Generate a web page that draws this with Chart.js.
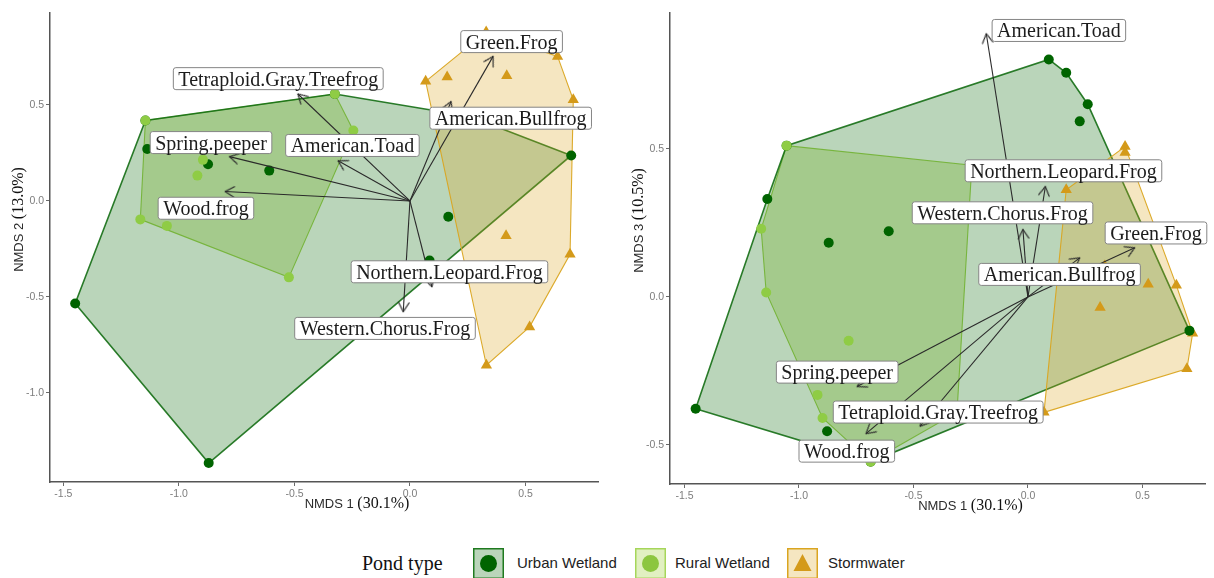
<!DOCTYPE html>
<html>
<head>
<meta charset="utf-8">
<script src="https://cdn.jsdelivr.net/npm/chart.js@4.4.1/dist/chart.umd.min.js"></script>
<style>
  html, body { margin: 0; padding: 0; background: #fff; }
  #wrap { position: relative; width: 1214px; height: 578px; overflow: hidden; }
  #wrap canvas { position: absolute; top: 0; }
  #c12 { left: 0; }
  #c13 { left: 607px; }
  .lg { position: absolute; top: 548px; height: 30px; white-space: nowrap; }
  .lg-title { font: 20px "Liberation Serif", "Times New Roman", serif; line-height: 30px; color: #111; }
  .lg-text { font: 15px "Liberation Sans", Arial, sans-serif; line-height: 30px; color: #222; }
  .lg svg { display: block; }
</style>
</head>
<body>
<div id="wrap">
  <canvas id="c12" width="607" height="520"></canvas>
  <canvas id="c13" width="607" height="520"></canvas>

  <div class="lg lg-title" style="left:362px;">Pond type</div>
  <div class="lg" style="left:473px;">
    <svg width="31" height="31"><rect x="0.75" y="0.75" width="29.5" height="29.5" fill="rgba(0,100,0,0.27)" stroke="#1f7a1f" stroke-width="1.5"/><circle cx="15.5" cy="15.5" r="8.5" fill="#006400"/></svg>
  </div>
  <div class="lg lg-text" style="left:517px;">Urban Wetland</div>
  <div class="lg" style="left:635px;">
    <svg width="31" height="31"><rect x="0.75" y="0.75" width="29.5" height="29.5" fill="rgba(154,205,50,0.30)" stroke="#a6d65a" stroke-width="1.5"/><circle cx="15.5" cy="15.5" r="8.5" fill="#8cc63f"/></svg>
  </div>
  <div class="lg lg-text" style="left:675px;">Rural Wetland</div>
  <div class="lg" style="left:787px;">
    <svg width="31" height="31"><rect x="0.75" y="0.75" width="29.5" height="29.5" fill="rgba(218,165,32,0.28)" stroke="#daa520" stroke-width="1.5"/><polygon points="15.5,6 24.5,23 6.5,23" fill="#d49a1a"/></svg>
  </div>
  <div class="lg lg-text" style="left:828px;">Stormwater</div>
</div>

<script>
// ---- axis ticks ----
const xTicks = [-1.5, -1.0, -0.5, 0.0, 0.5];
const yTicksNMDS2 = [-1.0, -0.5, 0.0, 0.5];
const yTicksNMDS3 = [-0.5, 0.0, 0.5];

// ---- site scores, NMDS 1 vs NMDS 2 ----
const urbanNMDS12 = [[-1.449,-0.534],[-0.871,-1.365],[-1.137,0.271],[-0.874,0.191],[-0.609,0.158],
                     [0.166,-0.082],[0.698,0.237],[0.085,-0.31],[-1.145,0.419],[-0.325,0.557],[0.26,0.44]];
const ruralNMDS12 = [[-1.145,0.419],[-0.325,0.557],[-0.245,0.367],[-0.896,0.214],[-0.920,0.132],
                     [-1.167,-0.096],[-1.052,-0.130],[-0.524,-0.398]];
const stormNMDS12 = [[0.068,0.623],[0.161,0.645],[0.419,0.652],[0.639,0.753],[0.707,0.527],
                     [0.416,-0.181],[0.693,-0.278],[0.518,-0.656],[0.331,-0.856],[0.33,0.88]];

// ---- site scores, NMDS 1 vs NMDS 3 ----
const urbanNMDS13 = [[0.091,0.802],[0.167,0.757],[0.261,0.651],[0.226,0.593],[-1.138,0.331],
                     [-0.608,0.222],[-0.870,0.183],[-1.451,-0.378],[-0.877,-0.454],[0.705,-0.114],
                     [-1.054,0.511],[-0.687,-0.557]];
const ruralNMDS13 = [[-1.054,0.511],[-1.165,0.230],[-1.143,0.015],[-0.783,-0.148],[-0.919,-0.331],
                     [-0.897,-0.409],[-0.687,-0.557],[-0.245,0.445],[-0.31,-0.39]];
const stormNMDS13 = [[0.424,0.508],[0.424,0.488],[0.167,0.362],[0.335,0.104],[0.525,0.043],
                     [0.648,0.039],[0.315,-0.036],[0.719,-0.123],[0.694,-0.243],[0.07,-0.39]];

// ---- species vectors (envfit) ----
const species = ["Green.Frog","Tetraploid.Gray.Treefrog","American.Bullfrog","American.Toad",
                 "Spring.peeper","Wood.frog","Northern.Leopard.Frog","Western.Chorus.Frog"];
const vecNMDS12 = [[0.36,0.753],[-0.485,0.557],[0.178,0.518],[-0.311,0.209],
                   [-0.781,0.231],[-0.80,0.049],[0.095,-0.447],[-0.029,-0.577]];
const labelNMDS12 = [[0.44,0.83],[-0.57,0.637],[0.436,0.431],[-0.249,0.289],
                     [-0.861,0.304],[-0.883,-0.038],[0.171,-0.369],[-0.108,-0.664]];
const vecNMDS13 = [[0.466,0.166],[-0.471,-0.437],[0.226,0.132],[-0.182,0.889],
                   [-0.746,-0.303],[-0.707,-0.462],[0.076,0.373],[-0.022,0.228]];
const labelNMDS13 = [[0.559,0.216],[-0.392,-0.389],[0.138,0.076],[0.135,0.90],
                     [-0.833,-0.254],[-0.791,-0.521],[0.155,0.426],[-0.111,0.284]];

const SERIF = '"Liberation Serif", "Times New Roman", serif';
const SANS = '"Liberation Sans", Arial, sans-serif';

const toXY = arr => arr.map(([x, y]) => ({x, y}));

// convex hull (monotone chain), closed ring
function hull(points) {
  const p = points.slice().sort((a, b) => a[0] - b[0] || a[1] - b[1]);
  const cross = (o, a, b) => (a[0]-o[0])*(b[1]-o[1]) - (a[1]-o[1])*(b[0]-o[0]);
  const lower = [], upper = [];
  for (const q of p) {
    while (lower.length >= 2 && cross(lower[lower.length-2], lower[lower.length-1], q) <= 0) lower.pop();
    lower.push(q);
  }
  for (let i = p.length - 1; i >= 0; i--) {
    const q = p[i];
    while (upper.length >= 2 && cross(upper[upper.length-2], upper[upper.length-1], q) <= 0) upper.pop();
    upper.push(q);
  }
  const ring = lower.slice(0, -1).concat(upper.slice(0, -1));
  ring.push(ring[0]);
  return ring;
}

// open "V" arrow head, apex at the centre, pointing along +x
const arrowHead = (() => {
  const c = document.createElement('canvas');
  c.width = 26; c.height = 26;
  const g = c.getContext('2d');
  const L = 10.5, a = Math.PI / 6;
  g.strokeStyle = '#2a2a2a'; g.lineWidth = 1.2; g.lineCap = 'round'; g.lineJoin = 'round';
  g.beginPath();
  g.moveTo(13 - L * Math.cos(a), 13 - L * Math.sin(a));
  g.lineTo(13, 13);
  g.lineTo(13 - L * Math.cos(a), 13 + L * Math.sin(a));
  g.stroke();
  return c;
})();

// polygon fill beneath each hull outline, using the points the library placed
const hullFill = {
  id: 'hullFill',
  beforeDatasetDraw(chart, args) {
    const ds = chart.data.datasets[args.index];
    if (!ds.hullColor) return;
    const pts = args.meta.data;
    const ctx = chart.ctx;
    ctx.save();
    ctx.beginPath();
    pts.forEach((p, i) => i ? ctx.lineTo(p.x, p.y) : ctx.moveTo(p.x, p.y));
    ctx.closePath();
    ctx.fillStyle = ds.hullColor;
    ctx.fill();
    ctx.restore();
  }
};

function roundRectPath(ctx, x, y, w, h, r) {
  ctx.beginPath();
  ctx.moveTo(x + r, y);
  ctx.lineTo(x + w - r, y); ctx.arcTo(x + w, y, x + w, y + r, r);
  ctx.lineTo(x + w, y + h - r); ctx.arcTo(x + w, y + h, x + w - r, y + h, r);
  ctx.lineTo(x + r, y + h); ctx.arcTo(x, y + h, x, y + h - r, r);
  ctx.lineTo(x, y + r); ctx.arcTo(x, y, x + r, y, r);
  ctx.closePath();
}

function speciesLabelPlugin(names, pos) {
  return {
    id: 'speciesLabels',
    afterDatasetsDraw(chart) {
      const {ctx} = chart;
      const xs = chart.scales.x, ys = chart.scales.y;
      ctx.save();
      ctx.font = `20px ${SERIF}`;
      names.forEach((name, i) => {
        const cx = xs.getPixelForValue(pos[i][0]);
        const cy = ys.getPixelForValue(pos[i][1]);
        const w = ctx.measureText(name).width + 10, h = 22;
        roundRectPath(ctx, cx - w / 2, cy - h / 2, w, h, 2.5);
        ctx.fillStyle = '#ffffff'; ctx.fill();
        ctx.lineWidth = 1; ctx.strokeStyle = '#858585'; ctx.stroke();
        ctx.fillStyle = '#1c1c1c'; ctx.textAlign = 'center'; ctx.textBaseline = 'alphabetic';
        ctx.fillText(name, cx, cy + 7);
      });
      ctx.restore();
    }
  };
}

function axisTitlePlugin(xParts, yParts) {
  const draw = (ctx, parts, cx, cy, rot) => {
    ctx.save();
    ctx.translate(cx, cy); ctx.rotate(rot);
    ctx.font = `13px ${SANS}`;
    const w1 = ctx.measureText(parts[0] + ' ').width;
    ctx.font = `16px ${SERIF}`;
    const w2 = ctx.measureText(parts[1]).width;
    const x0 = -(w1 + w2) / 2;
    ctx.textAlign = 'left'; ctx.textBaseline = 'alphabetic';
    ctx.font = `13px ${SANS}`; ctx.fillStyle = '#2b2b2b';
    ctx.fillText(parts[0], x0, 5);
    ctx.font = `16px ${SERIF}`; ctx.fillStyle = '#111';
    ctx.fillText(parts[1], x0 + w1, 5);
    ctx.restore();
  };
  return {
    id: 'axisTitles',
    afterDraw(chart) {
      const a = chart.chartArea, ctx = chart.ctx;
      draw(ctx, xParts, (a.left + a.right) / 2 + 33, a.bottom + 21, 0);
      draw(ctx, yParts, a.left - 32, (a.top + a.bottom) / 2 - 28, -Math.PI / 2);
    }
  };
}

function arrowRotation(ctx) {
  if (ctx.type !== 'data') return 0;
  const c = ctx.chart, xs = c.scales.x, ys = c.scales.y, d = ctx.dataset.data;
  const dx = xs.getPixelForValue(d[1].x) - xs.getPixelForValue(d[0].x);
  const dy = ys.getPixelForValue(d[1].y) - ys.getPixelForValue(d[0].y);
  return Math.atan2(dy, dx) * 180 / Math.PI;
}

function makePanel(canvasId, p) {
  const hullSet = (pts, line, fillCol, width, order) => ({
    data: toXY(hull(pts)), showLine: true, fill: false, tension: 0,
    borderColor: line, borderWidth: width, pointRadius: 0, hullColor: fillCol, order
  });
  const pointSet = (pts, col, style, r, order) => ({
    data: toXY(pts), showLine: false, pointStyle: style, pointRadius: r,
    backgroundColor: col, borderWidth: 0, order
  });
  const arrows = p.vec.map(v => ({
    data: [{x: 0, y: 0}, {x: v[0], y: v[1]}], showLine: true, borderColor: '#2a2a2a',
    borderWidth: 1.1, pointRadius: [0, 3], pointStyle: arrowHead, rotation: arrowRotation, order: 0
  }));

  const tickFont = {family: SANS, size: 10.5};
  const axisCommon = {
    type: 'linear',
    grid: {drawOnChartArea: false, drawTicks: true, tickLength: 4, color: '#6a6a6a', tickWidth: 1},
    border: {display: true, color: '#555555', width: 1.5}
  };

  new Chart(document.getElementById(canvasId), {
    type: 'scatter',
    data: {
      datasets: [
        hullSet(p.rural, 'rgba(150,205,60,0.85)', 'rgba(154,205,50,0.30)', 1.1, 8),
        hullSet(p.urban, 'rgba(20,110,20,0.9)', 'rgba(0,100,0,0.27)', 1.6, 7),
        hullSet(p.storm, 'rgba(218,165,32,0.95)', 'rgba(218,165,32,0.28)', 1.1, 6),
        pointSet(p.storm, '#d49a1a', 'triangle', 6.5, 5),
        pointSet(p.urban, '#006400', 'circle', 5, 4),
        pointSet(p.rural, '#8fcc45', 'circle', 5, 3),
        ...arrows
      ]
    },
    options: {
      responsive: false, animation: false, events: [],
      devicePixelRatio: 1,
      layout: {padding: {left: 0, top: 13, right: 9, bottom: 0}},
      plugins: {legend: {display: false}, tooltip: {enabled: false}},
      scales: {
        x: Object.assign({}, axisCommon, {
          min: p.xMin, max: p.xMax,
          afterBuildTicks: s => { s.ticks = xTicks.map(v => ({value: v})); },
          afterFit: s => { s.height = p.xAxisH; },
          ticks: {callback: v => Number(v).toFixed(1), color: '#7d7d7d', font: tickFont, padding: 2,
                  autoSkip: false, maxRotation: 0}
        }),
        y: Object.assign({}, axisCommon, {
          min: p.yMin, max: p.yMax,
          afterBuildTicks: s => { s.ticks = p.yTicks.map(v => ({value: v})); },
          afterFit: s => { s.width = p.yAxisW; },
          ticks: {callback: v => Number(v).toFixed(1), color: '#7d7d7d', font: tickFont, padding: 2}
        })
      }
    },
    plugins: [hullFill, speciesLabelPlugin(species, p.labels), axisTitlePlugin(p.xTitle, p.yTitle)]
  });
}

makePanel('c12', {
  urban: urbanNMDS12, rural: ruralNMDS12, storm: stormNMDS12,
  vec: vecNMDS12, labels: labelNMDS12, yTicks: yTicksNMDS2,
  xMin: -1.558, xMax: 0.814, yMin: -1.464, yMax: 0.979,
  yAxisW: 50, xAxisH: 38,
  xTitle: ['NMDS 1', '(30.1%)'], yTitle: ['NMDS 2', '(13.0%)']
});

makePanel('c13', {
  urban: urbanNMDS13, rural: ruralNMDS13, storm: stormNMDS13,
  vec: vecNMDS13, labels: labelNMDS13, yTicks: yTicksNMDS3,
  xMin: -1.563, xMax: 0.773, yMin: -0.632, yMax: 0.959,
  yAxisW: 63, xAxisH: 36,
  xTitle: ['NMDS 1', '(30.1%)'], yTitle: ['NMDS 3', '(10.5%)']
});
</script>
</body>
</html>
